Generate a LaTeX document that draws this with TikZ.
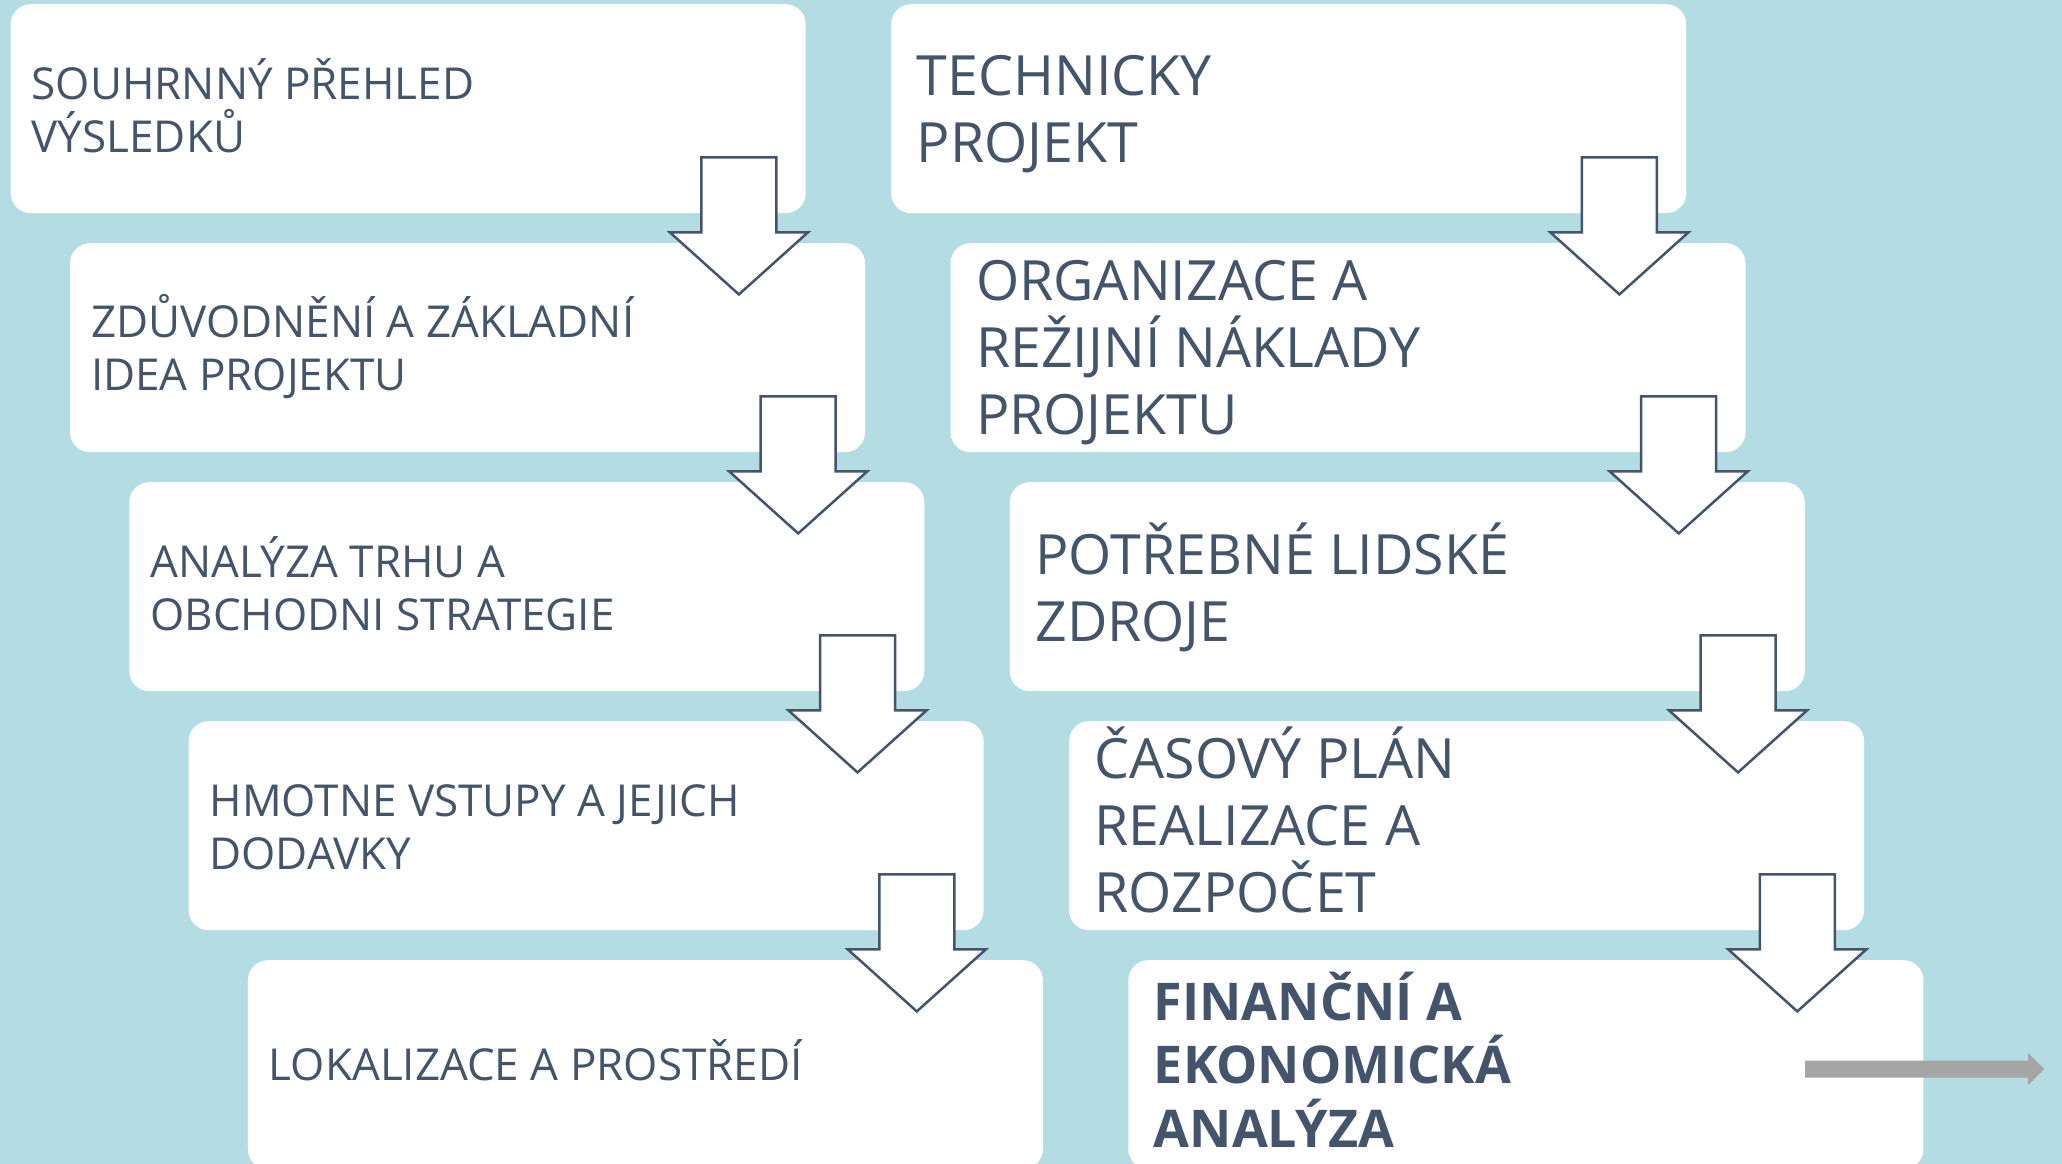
\documentclass[tikz,border=0pt]{standalone}
\usepackage{fontspec}
\setmainfont{Open Sans}
\definecolor{bgblue}{RGB}{179,221,227}
\definecolor{slate}{RGB}{68,84,106}
\definecolor{greyarrow}{RGB}{165,165,165}
\tikzset{
  box/.style={fill=white, draw=none, rounded corners=20pt, minimum width=795pt, minimum height=209pt, anchor=north west, inner sep=0pt},
  smalltxt/.style={anchor=base west, inner sep=0pt, align=left, text=slate, font=\fontsize{44}{53}\selectfont},
  bigtxt/.style={anchor=base west, inner sep=0pt, align=left, text=slate, font=\fontsize{55.5}{67}\selectfont},
  boldtxt/.style={anchor=base west, inner sep=0pt, align=left, text=slate, font=\bfseries\fontsize{52}{63.5}\selectfont},
  blockarr/.style={draw=slate, fill=white, line width=2.5pt, line join=miter},
}
\newcommand\downarrowfrom[1]{%
  \begin{scope}[shift={(#1.south east)}]
    \draw[blockarr] (-104.5,-56) -- (-29.5,-56) -- (-29.5,19) -- (2,19) -- (-67,81) -- (-136,19) -- (-104.5,19) -- cycle;
  \end{scope}}
\begin{document}
\begin{tikzpicture}[x=1pt,y=-1pt]
\useasboundingbox (0,0) rectangle (2062,1164);
\fill[bgblue] (0,0) rectangle (2062,1164);
% left column boxes
\node[box] (b1) at (10.5,4) {};
\node[box] (b2) at (69.8,243) {};
\node[box] (b3) at (129.1,482) {};
\node[box] (b4) at (188.4,721) {};
\node[box] (b5) at (247.7,960) {};
% right column boxes
\node[box] (r1) at (891,4) {};
\node[box] (r2) at (950.3,243) {};
\node[box] (r3) at (1009.6,482) {};
\node[box] (r4) at (1068.9,721) {};
\node[box] (r5) at (1128.2,960) {};
% texts (anchor = baseline of the last line)
\node[smalltxt] (t1) at (31.5,152) {SOUHRNNÝ PŘEHLED\\VÝSLEDKŮ};
\node[smalltxt] (t2) at (90.8,390) {ZDŮVODNĚNÍ A ZÁKLADNÍ\\IDEA PROJEKTU};
\node[smalltxt] (t3) at (150.1,630) {ANALÝZA TRHU A\\OBCHODNI STRATEGIE};
\node[smalltxt] (t4) at (209.4,869) {HMOTNE VSTUPY A JEJICH\\DODAVKY};
\node[smalltxt] (t5) at (268.7,1080) {LOKALIZACE A PROSTŘEDÍ};
\node[bigtxt] (s1) at (916.5,162) {TECHNICKY\\PROJEKT};
\node[bigtxt] (s2) at (975.8,434) {ORGANIZACE A\\REŽIJNÍ NÁKLADY\\PROJEKTU};
\node[bigtxt] (s3) at (1035.1,641) {POTŘEBNÉ LIDSKÉ\\ZDROJE};
\node[bigtxt] (s4) at (1094.4,912) {ČASOVÝ PLÁN\\REALIZACE A\\ROZPOČET};
\node[boldtxt] (s5) at (1153.7,1147) {FINANČNÍ A\\EKONOMICKÁ\\ANALÝZA};
% block arrows
\downarrowfrom{b1}
\downarrowfrom{b2}
\downarrowfrom{b3}
\downarrowfrom{b4}
\downarrowfrom{r1}
\downarrowfrom{r2}
\downarrowfrom{r3}
\downarrowfrom{r4}
% grey arrow
\coordinate (ga) at (1805,1069);
\fill[greyarrow] (ga) ++(0,-8.5) -- ++(223,0) -- ++(0,-7.5) -- ++(16,16) -- ++(-16,16) -- ++(0,-7.5) -- ++(-223,0) -- cycle;
\end{tikzpicture}
\end{document}
